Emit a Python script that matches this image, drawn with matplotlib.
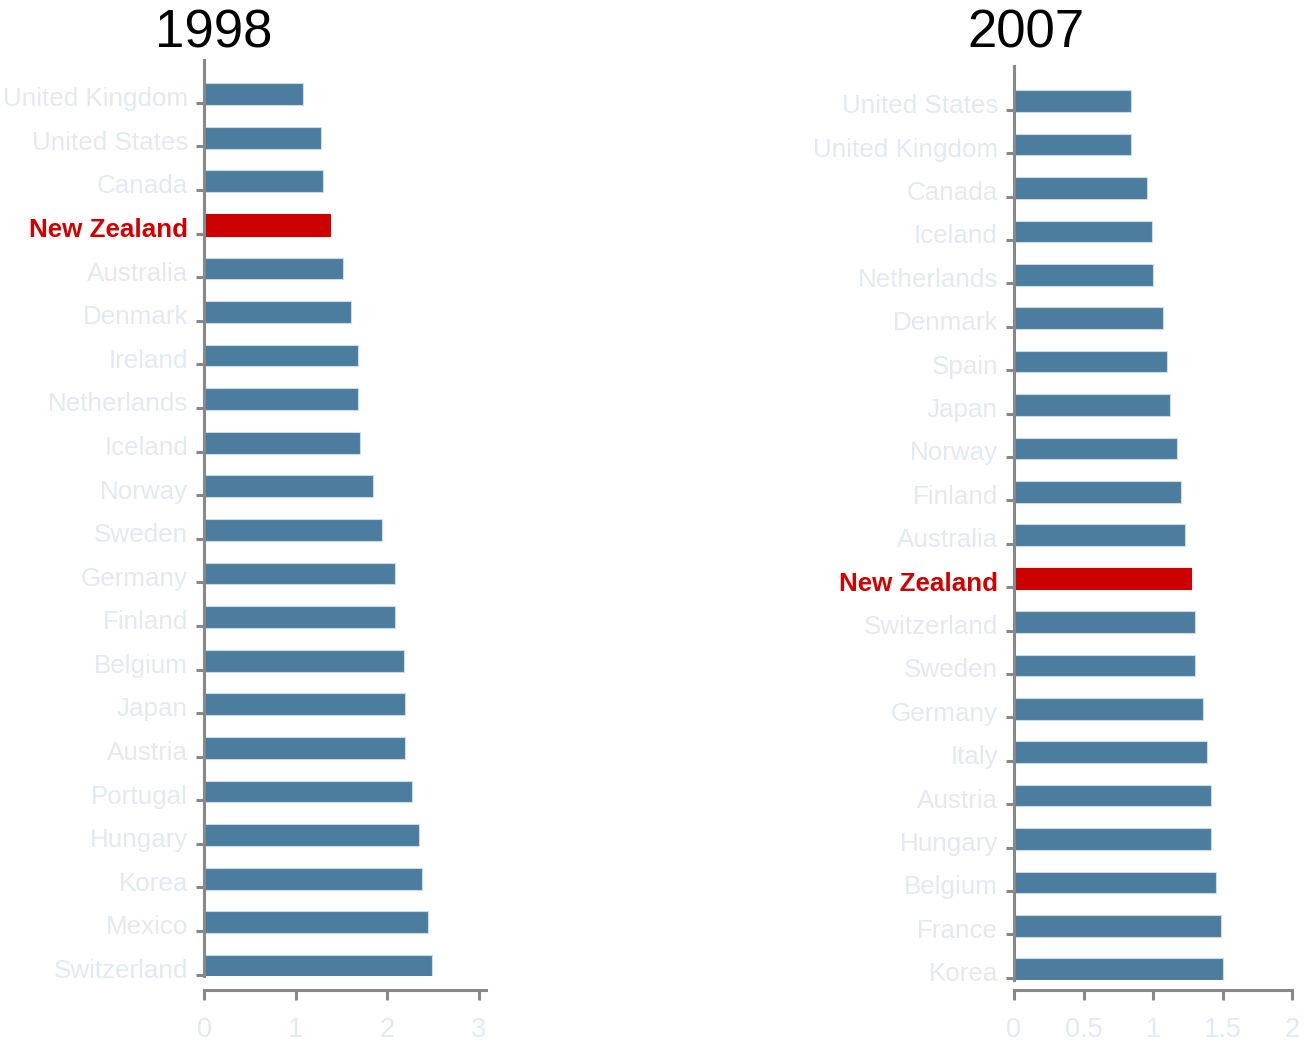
import matplotlib
matplotlib.use("Agg")
import matplotlib.pyplot as plt

# Data
countries_1998 = ['United Kingdom', 'United States', 'Canada', 'New Zealand', 'Australia',
                  'Denmark', 'Ireland', 'Netherlands', 'Iceland', 'Norway', 'Sweden',
                  'Germany', 'Finland', 'Belgium', 'Japan', 'Austria', 'Portugal',
                  'Hungary', 'Korea', 'Mexico', 'Switzerland']
values_1998 = [1.08, 1.28, 1.30, 1.38, 1.52, 1.61, 1.68, 1.68, 1.70, 1.85, 1.94,
               2.09, 2.09, 2.18, 2.20, 2.20, 2.27, 2.35, 2.38, 2.45, 2.49]

countries_2007 = ['United States', 'United Kingdom', 'Canada', 'Iceland', 'Netherlands',
                  'Denmark', 'Spain', 'Japan', 'Norway', 'Finland', 'Australia',
                  'New Zealand', 'Switzerland', 'Sweden', 'Germany', 'Italy', 'Austria',
                  'Hungary', 'Belgium', 'France', 'Korea']
values_2007 = [0.84, 0.84, 0.96, 0.99, 1.00, 1.07, 1.10, 1.12, 1.17, 1.20, 1.23,
               1.27, 1.30, 1.30, 1.36, 1.39, 1.42, 1.42, 1.45, 1.49, 1.50]

xticks_1998 = [0, 1, 2, 3]
xticks_2007 = [0, 0.5, 1, 1.5, 2]
HIGHLIGHT = 'New Zealand'

W, H = 1304, 1046
DPI = 100
BAR = '#4c7c9e'
BAR_EDGE = '#c9dcec'
RED = '#cc0000'
LABEL = '#e3e9f2'
AXIS = '#888888'
PX = 72.0 / DPI  # points per pixel


def px_axes(fig, left, right, top, bottom):
    return fig.add_axes([left / W, 1 - bottom / H, (right - left) / W, (bottom - top) / H])


def draw_panel(ax, names, values, xmax, xticks, ytop, ybot, x_offset_px, title, title_x):
    n = len(names)
    pos = list(range(n))
    colors = [RED if c == HIGHLIGHT else BAR for c in names]
    edges = [RED if c == HIGHLIGHT else BAR_EDGE for c in names]
    ax.barh(pos, values, height=0.5, color=colors, edgecolor=edges, linewidth=0.8)
    ax.set_xlim(0, xmax)
    ax.set_ylim(n - 1 + ybot, -ytop)

    for s in ['top', 'right']:
        ax.spines[s].set_visible(False)
    for s in ['left', 'bottom']:
        ax.spines[s].set_color(AXIS)
        ax.spines[s].set_linewidth(2.2)
    ax.spines['bottom'].set_position(('outward', x_offset_px * PX))

    ax.set_yticks([p + 0.2 for p in pos])
    ax.set_yticklabels([])
    ax.tick_params(axis='y', length=8 * PX, width=2.2, color=AXIS)

    ax.set_xticks(xticks)
    ax.set_xticklabels([('%g' % t) for t in xticks])
    ax.tick_params(axis='x', length=10 * PX, width=2.2, color=AXIS,
                   labelcolor=LABEL, labelsize=19.5, pad=12)
    for lab in ax.get_xticklabels():
        lab.set_family('Liberation Sans')

    for p, name in zip(pos, names):
        hl = name == HIGHLIGHT
        ax.annotate(name, xy=(0, p + 0.06), xycoords=ax.get_yaxis_transform(),
                    xytext=(-16 * PX, 0), textcoords='offset points',
                    ha='right', va='center_baseline', fontsize=18.7,
                    family='Liberation Sans',
                    color=RED if hl else LABEL,
                    fontweight='bold' if hl else 'normal')

    ax.figure.text(title_x / W, 1 - 48 / H, title, ha='center', va='baseline',
                   fontsize=38, color='black', family='Liberation Sans')


fig = plt.figure(figsize=(W / DPI, H / DPI), dpi=DPI)
fig.patch.set_facecolor('white')

ax1 = px_axes(fig, 204, 486, 60, 976)
draw_panel(ax1, countries_1998, values_1998, 3.08, xticks_1998,
           0.78, 0.23, 14, '1998', 214)

ax2 = px_axes(fig, 1014, 1292, 66, 980)
draw_panel(ax2, countries_2007, values_2007, 2.0, xticks_2007,
           0.81, 0.25, 10, '2007', 1026)

fig.savefig('out.png', dpi=DPI, facecolor='white')
